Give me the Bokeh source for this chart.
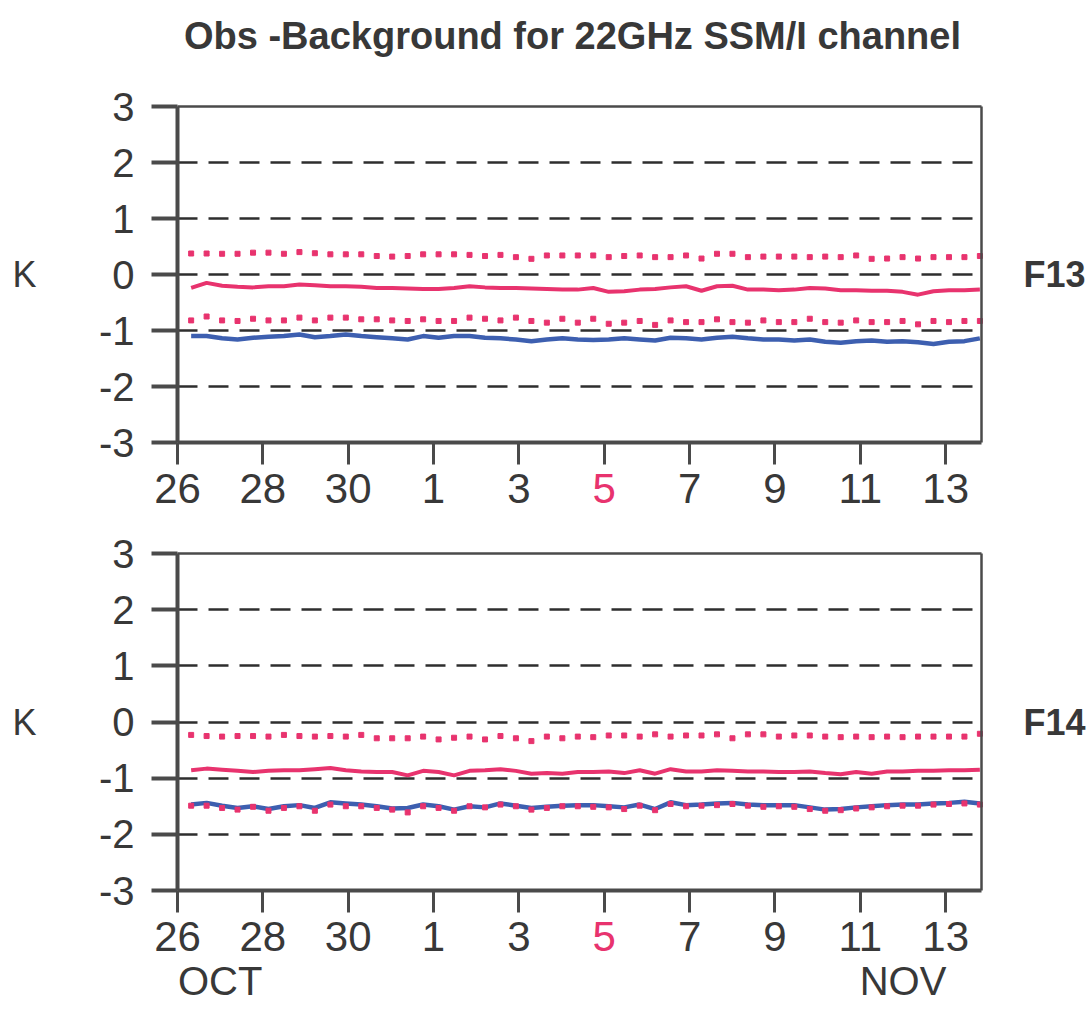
from bokeh.plotting import figure
from bokeh.models import Range1d, FixedTicker, Label, LinearAxis
from bokeh.layouts import column
from bokeh.embed import file_html
from bokeh.resources import INLINE

# ---------------- data ----------------
# sample times, in days after 00Z 26 October (regular analysis cycle)
sample_day = [round(0.32 + 0.3624 * i, 3) for i in range(52)]

# F13 (upper panel)
f13_upper_dotted = [0.375, 0.375, 0.37, 0.37, 0.39, 0.39, 0.37, 0.40, 0.38, 0.36, 0.36, 0.36, 0.33,
                    0.32, 0.33, 0.36, 0.36, 0.36, 0.35, 0.33, 0.35, 0.31, 0.28, 0.34,
                    0.34, 0.34, 0.34, 0.31, 0.33, 0.34, 0.31, 0.31, 0.34, 0.285, 0.37, 0.37, 0.31,
                    0.32, 0.32, 0.32, 0.31, 0.32, 0.31, 0.34, 0.28, 0.285, 0.31, 0.285, 0.31, 0.31, 0.31, 0.33]
f13_red_mean = [-0.24, -0.15, -0.20, -0.22, -0.23, -0.21, -0.21, -0.18, -0.19, -0.21, -0.21, -0.22, -0.24,
                -0.24, -0.25, -0.26, -0.26, -0.24, -0.21, -0.23, -0.24, -0.24, -0.25, -0.26, -0.27,
                -0.27, -0.24, -0.31, -0.30, -0.27, -0.26, -0.23, -0.21, -0.29, -0.21, -0.20, -0.27, -0.27,
                -0.28, -0.27, -0.24, -0.25, -0.28, -0.28, -0.29, -0.29, -0.31, -0.36, -0.30, -0.28, -0.28, -0.27]
f13_lower_dotted = [-0.82, -0.75, -0.82, -0.83, -0.79, -0.82, -0.82, -0.77, -0.82, -0.77, -0.77, -0.80, -0.80,
                    -0.82, -0.83, -0.80, -0.83, -0.83, -0.77, -0.79, -0.82, -0.77, -0.83, -0.86, -0.79,
                    -0.86, -0.79, -0.88, -0.86, -0.83, -0.90, -0.82, -0.85, -0.85, -0.80, -0.85, -0.86, -0.82,
                    -0.85, -0.85, -0.79, -0.85, -0.86, -0.82, -0.85, -0.85, -0.83, -0.89, -0.83, -0.85, -0.83, -0.83]
f13_blue_mean = [-1.10, -1.10, -1.14, -1.16, -1.13, -1.11, -1.10, -1.07, -1.12, -1.10, -1.07, -1.10, -1.12,
                 -1.14, -1.16, -1.10, -1.13, -1.10, -1.10, -1.13, -1.14, -1.16, -1.19, -1.16, -1.14,
                 -1.16, -1.17, -1.16, -1.14, -1.16, -1.18, -1.13, -1.14, -1.16, -1.13, -1.11, -1.14, -1.16,
                 -1.16, -1.18, -1.16, -1.20, -1.22, -1.19, -1.18, -1.20, -1.19, -1.21, -1.24, -1.20, -1.19, -1.14]

# F14 (lower panel)
f14_upper_dotted = [-0.23, -0.25, -0.26, -0.25, -0.25, -0.26, -0.23, -0.25, -0.26, -0.25, -0.26, -0.23, -0.29,
                    -0.29, -0.29, -0.26, -0.31, -0.28, -0.26, -0.31, -0.25, -0.29, -0.34, -0.26, -0.29,
                    -0.26, -0.27, -0.24, -0.24, -0.26, -0.22, -0.26, -0.24, -0.24, -0.22, -0.29, -0.22, -0.22,
                    -0.26, -0.24, -0.24, -0.26, -0.27, -0.26, -0.27, -0.26, -0.27, -0.26, -0.26, -0.26, -0.26, -0.21]
f14_red_mean = [-0.86, -0.83, -0.85, -0.87, -0.89, -0.87, -0.86, -0.86, -0.84, -0.82, -0.86, -0.88, -0.89,
                -0.89, -0.95, -0.87, -0.89, -0.95, -0.87, -0.86, -0.84, -0.87, -0.92, -0.91, -0.92,
                -0.89, -0.89, -0.88, -0.91, -0.86, -0.92, -0.84, -0.88, -0.88, -0.86, -0.87, -0.88, -0.88,
                -0.89, -0.89, -0.88, -0.91, -0.93, -0.89, -0.92, -0.88, -0.88, -0.87, -0.87, -0.86, -0.86, -0.85]
f14_lower_dotted = [-1.49, -1.49, -1.53, -1.56, -1.51, -1.58, -1.53, -1.50, -1.58, -1.47, -1.50, -1.50, -1.53,
                    -1.56, -1.61, -1.50, -1.53, -1.58, -1.50, -1.52, -1.47, -1.50, -1.56, -1.53, -1.50,
                    -1.50, -1.51, -1.52, -1.55, -1.49, -1.57, -1.46, -1.50, -1.49, -1.48, -1.46, -1.49, -1.51,
                    -1.50, -1.51, -1.55, -1.58, -1.57, -1.54, -1.52, -1.50, -1.49, -1.49, -1.47, -1.46, -1.45, -1.47]
f14_blue_mean = [-1.47, -1.44, -1.49, -1.53, -1.50, -1.55, -1.50, -1.48, -1.53, -1.43, -1.45, -1.47, -1.50,
                 -1.54, -1.53, -1.47, -1.50, -1.56, -1.50, -1.52, -1.45, -1.49, -1.53, -1.51, -1.49,
                 -1.48, -1.48, -1.50, -1.52, -1.47, -1.55, -1.43, -1.48, -1.47, -1.45, -1.44, -1.47, -1.48,
                 -1.48, -1.48, -1.52, -1.56, -1.55, -1.52, -1.50, -1.48, -1.47, -1.47, -1.45, -1.44, -1.42, -1.45]

day_ticks = [0, 2, 4, 6, 8, 10, 12, 14, 16, 18]
day_labels = ["26", "28", "30", "1", "3", "5", "7", "9", "11", "13"]
highlight_day = 10
y_ticks = [-3, -2, -1, 0, 1, 2, 3]
grid_levels = [-2, -1, 0, 1, 2]
month_days = [1.0, 17.0]
month_names = ["OCT", "NOV"]
title_text = "Obs -Background for 22GHz SSM/I channel"
unit_label = "K"
sat_names = ["F13", "F14"]

# ---------------- layout / style ----------------
X_START, X_END = 0.0, 18.84
Y_MIN, Y_MAX = -3, 3
W = 1086
BOX_L, BOX_R = 177, 981          # plot box edges, canvas pixels
PINK = "#e8336e"
BLUE = "#3d5fb0"
INK = "#383838"
AXIS = "#4a4a4a"
FONT = "Liberation Sans"
TICK_FONT = "42px"
X_TICK_OUT, X_STANDOFF = 22, 9


def x_range_full():
    dx = (X_END - X_START) / (BOX_R - BOX_L)
    return Range1d(X_START - BOX_L * dx, X_END + (W - BOX_R) * dx)


def y_range_full(box_top, box_bottom, height):
    dy = (Y_MAX - Y_MIN) / (box_bottom - box_top)
    return Range1d(Y_MIN - (height - box_bottom) * dy, Y_MAX + box_top * dy)


def bare_axis(**kw):
    return LinearAxis(ticker=FixedTicker(ticks=[]), major_tick_out=0, major_tick_in=0,
                      minor_tick_out=0, minor_tick_in=0, major_label_text_font_size="0px",
                      major_label_standoff=0, axis_line_color=AXIS, axis_line_width=2.5, **kw)


def make_panel(height, box_top, box_bottom, upper, mid, lower, base, sat, months=False, title=False):
    p = figure(width=W, height=height,
               x_range=x_range_full(), y_range=y_range_full(box_top, box_bottom, height),
               output_backend="svg", toolbar_location=None,
               min_border=0, min_border_left=0, min_border_right=0,
               min_border_top=0, min_border_bottom=0)
    p.background_fill_color = "white"
    p.border_fill_color = "white"
    p.outline_line_color = None
    p.xgrid.visible = False

    # dashed horizontal grid inside the plot box
    grid = p.ygrid[0]
    if "cross_bounds" in grid.properties():
        grid.ticker = FixedTicker(ticks=grid_levels)
        grid.cross_bounds = (X_START, X_END)
        grid.grid_line_color = "#2e2e2e"
        grid.grid_line_width = 2.5
        grid.grid_line_dash = "20 11"
    else:
        grid.visible = False
        p.segment(x0=[X_START] * len(grid_levels), x1=[X_END] * len(grid_levels),
                  y0=grid_levels, y1=grid_levels, line_color="#2e2e2e",
                  line_width=2.5, line_dash="20 11")

    xa = p.xaxis[0]
    xa.fixed_location = Y_MIN
    xa.bounds = (X_START, X_END)
    xa.ticker = FixedTicker(ticks=day_ticks)
    xa.major_label_overrides = {t: ("" if t == highlight_day else lab)
                                for t, lab in zip(day_ticks, day_labels)}
    xa.major_tick_out = X_TICK_OUT
    xa.major_tick_in = 0
    xa.minor_tick_out = 0
    xa.minor_tick_in = 0
    xa.major_tick_line_width = 3
    xa.major_tick_line_color = AXIS
    xa.axis_line_width = 4
    xa.axis_line_color = AXIS
    xa.major_label_standoff = X_STANDOFF
    xa.major_label_text_font = FONT
    xa.major_label_text_font_size = TICK_FONT
    xa.major_label_text_color = INK

    ya = p.yaxis[0]
    ya.fixed_location = X_START
    ya.bounds = (Y_MIN, Y_MAX)
    ya.ticker = FixedTicker(ticks=y_ticks)
    ya.major_label_overrides = {t: str(t) for t in y_ticks}
    ya.major_tick_out = 26
    ya.major_tick_in = 0
    ya.minor_tick_out = 0
    ya.minor_tick_in = 0
    ya.major_tick_line_width = 4
    ya.major_tick_line_color = AXIS
    ya.axis_line_width = 4
    ya.axis_line_color = AXIS
    ya.major_label_standoff = 17
    ya.major_label_text_font = FONT
    ya.major_label_text_font_size = "40px"
    ya.major_label_text_color = INK

    p.add_layout(bare_axis(fixed_location=Y_MAX, bounds=(X_START, X_END)), "above")
    p.add_layout(bare_axis(fixed_location=X_END, bounds=(Y_MIN, Y_MAX)), "right")

    p.line(sample_day, mid, line_color=PINK, line_width=4)
    p.line(sample_day, base, line_color=BLUE, line_width=4.5)
    p.scatter(sample_day, upper, marker="square", size=5, color=PINK)
    p.scatter(sample_day, lower, marker="square", size=5, color=PINK)

    # red highlighted tick label
    p.add_layout(Label(x=highlight_day, y=Y_MIN, y_offset=-(X_TICK_OUT + X_STANDOFF),
                       text=day_labels[day_ticks.index(highlight_day)],
                       text_align="center", text_baseline="top",
                       text_font=FONT, text_font_size=TICK_FONT, text_color=PINK))
    p.add_layout(Label(x=X_START, y=0, x_offset=-153, text=unit_label,
                       text_align="center", text_baseline="middle",
                       text_font=FONT, text_font_size="36px", text_color=INK))
    p.add_layout(Label(x=X_END, y=0, x_offset=42, text=sat,
                       text_align="left", text_baseline="middle",
                       text_font=FONT, text_font_size="36px", text_font_style="bold",
                       text_color=INK))
    if title:
        p.add_layout(Label(x=(X_START + X_END) / 2, y=Y_MAX, x_offset=-7, y_offset=71,
                           text=title_text, text_align="center", text_baseline="middle",
                           text_font=FONT, text_font_size="38px", text_font_style="bold",
                           text_color=INK))
    if months:
        for d, name in zip(month_days, month_names):
            p.add_layout(Label(x=d, y=Y_MIN, y_offset=-90, text=name,
                               text_align="center", text_baseline="middle",
                               text_font=FONT, text_font_size="40px", text_color=INK))
    return p


p1 = make_panel(528, 106, 442, f13_upper_dotted, f13_red_mean, f13_lower_dotted, f13_blue_mean,
                sat_names[0], title=True)
p2 = make_panel(478, 25, 362, f14_upper_dotted, f14_red_mean, f14_lower_dotted, f14_blue_mean,
                sat_names[1], months=True)

layout = column(p1, p2)
open("out.html", "w").write(file_html(layout, INLINE))
